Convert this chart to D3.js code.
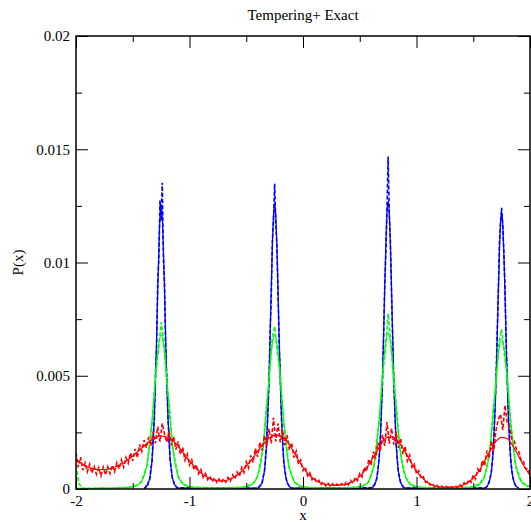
<!DOCTYPE html>
<html>
<head>
<meta charset="utf-8">
<script src="https://cdn.jsdelivr.net/npm/d3@7"></script>
<style>
  body { margin: 0; background: #fff; }
  svg text { font-family: "Liberation Serif", "Times New Roman", serif; fill: #000; }
</style>
</head>
<body>
<svg id="chart" width="531" height="524"></svg>
<script>
const xTicks = [-2, -1, 0, 1, 2];
const xMinorTicks = [-1.5, -0.5, 0.5, 1.5];
const yTicks = [0, 0.005, 0.01, 0.015, 0.02];
const yMinorTicks = [0.0025, 0.0075, 0.0125, 0.0175];
const peakCenters = [-1.25, -0.25, 0.75, 1.75];

// grids the curves were sampled on
const redX = d3.range(0, 81).map(i => -2 + i * 0.05);
const redHistX = d3.range(0, 201).map(i => -2 + i * 0.02);
const greenX = d3.range(0, 161).map(i => -2 + i * 0.025);
const blueX = peakCenters.flatMap(c => d3.range(-15, 16).map(k => c + k * 0.01));

// red: exact + tempering histogram
const redExact = [
  0.00130,0.00112,0.00098,0.00090,0.00086,0.00086,0.00090,0.00098,0.00110,0.00126,
  0.00146,0.00168,0.00190,0.00210,0.00226,0.00234,0.00230,0.00214,0.00188,0.00156,
  0.00124,0.00096,0.00072,0.00054,0.00042,0.00036,0.00036,0.00042,0.00054,0.00074,
  0.00100,0.00132,0.00166,0.00198,0.00224,0.00238,0.00236,0.00218,0.00180,0.00136,
  0.00096,0.00064,0.00042,0.00028,0.00020,0.00017,0.00016,0.00018,0.00024,0.00036,
  0.00056,0.00086,0.00124,0.00166,0.00206,0.00230,0.00228,0.00204,0.00164,0.00120,
  0.00080,0.00050,0.00028,0.00016,0.00010,0.00008,0.00008,0.00010,0.00016,0.00028,
  0.00048,0.00080,0.00124,0.00170,0.00210,0.00228,0.00222,0.00190,0.00144,0.00098,
  0.00060
];
const redHist = [
  0.00160,0.00097,0.00141,0.00083,0.00115,0.00076,0.00109,0.00070,0.00099,0.00065,
  0.00094,0.00058,0.00096,0.00062,0.00098,0.00068,0.00105,0.00076,0.00116,0.00089,
  0.00128,0.00096,0.00139,0.00114,0.00160,0.00124,0.00177,0.00138,0.00197,0.00166,
  0.00216,0.00182,0.00230,0.00191,0.00252,0.00202,0.00275,0.00209,0.00290,0.00242,
  0.00206,0.00258,0.00193,0.00232,0.00174,0.00210,0.00153,0.00184,0.00127,0.00154,
  0.00106,0.00129,0.00084,0.00107,0.00067,0.00086,0.00052,0.00069,0.00041,0.00056,
  0.00032,0.00049,0.00029,0.00044,0.00028,0.00046,0.00030,0.00051,0.00035,0.00062,
  0.00044,0.00075,0.00056,0.00095,0.00073,0.00120,0.00093,0.00148,0.00117,0.00179,
  0.00142,0.00207,0.00170,0.00236,0.00189,0.00266,0.00201,0.00315,0.00210,0.00289,
  0.00206,0.00262,0.00194,0.00239,0.00172,0.00204,0.00139,0.00167,0.00110,0.00128,
  0.00082,0.00097,0.00058,0.00072,0.00041,0.00052,0.00028,0.00038,0.00020,0.00031,
  0.00014,0.00025,0.00012,0.00023,0.00012,0.00022,0.00013,0.00024,0.00013,0.00029,
  0.00018,0.00038,0.00025,0.00051,0.00037,0.00068,0.00053,0.00096,0.00078,0.00132,
  0.00104,0.00165,0.00134,0.00204,0.00164,0.00240,0.00190,0.00295,0.00200,0.00268,
  0.00196,0.00252,0.00182,0.00224,0.00154,0.00188,0.00124,0.00149,0.00096,0.00110,
  0.00066,0.00080,0.00046,0.00054,0.00029,0.00034,0.00017,0.00024,0.00009,0.00016,
  0.00006,0.00013,0.00004,0.00012,0.00004,0.00012,0.00005,0.00014,0.00007,0.00019,
  0.00010,0.00028,0.00017,0.00041,0.00029,0.00062,0.00045,0.00088,0.00072,0.00126,
  0.00102,0.00170,0.00135,0.00213,0.00167,0.00258,0.00305,0.00330,0.00260,0.00370,
  0.00290,0.00274,0.00220,0.00214,0.00176,0.00168,0.00129,0.00126,0.00090,0.00090,
  0.00064
];

// green: exact + tempering histogram
const greenExact = [
  0.00003,0.00003,0.00003,0.00003,0.00003,0.00003,0.000032,0.000033,0.000035,0.000036,
  0.000037,0.000038,0.00004,0.000042,0.000045,0.00005,0.000055,0.00006,0.00007,0.00008,
  0.0001,0.00014,0.0002,0.00032,0.00059,0.00107,0.00197,0.0033,0.00485,0.00625,
  0.0068,0.00625,0.00485,0.0033,0.00197,0.00107,0.00059,0.00032,0.0002,0.00014,
  0.0001,0.00008,0.00007,0.00006,0.000055,0.00005,0.000045,0.000042,0.00004,0.000038,
  0.000037,0.000038,0.00004,0.000042,0.000045,0.00005,0.000055,0.00006,0.00007,0.00008,
  0.0001,0.00014,0.0002,0.00032,0.00059,0.00107,0.00197,0.0033,0.00485,0.00625,
  0.0068,0.00625,0.00485,0.0033,0.00197,0.00107,0.00059,0.00032,0.0002,0.00014,
  0.0001,0.00008,0.00007,0.00006,0.000055,0.00005,0.000045,0.000042,0.00004,0.000038,
  0.000037,0.000038,0.00004,0.000042,0.000045,0.00005,0.000055,0.00006,0.00007,0.00008,
  0.0001,0.00014,0.0002,0.00032,0.0006,0.00108,0.00199,0.00334,0.00491,0.00633,
  0.0069,0.00633,0.00491,0.00334,0.00199,0.00108,0.0006,0.00032,0.0002,0.00014,
  0.0001,0.00008,0.00007,0.00006,0.000055,0.00005,0.000045,0.000042,0.00004,0.000038,
  0.000037,0.000038,0.00004,0.000042,0.000045,0.00005,0.000055,0.00006,0.00007,0.00008,
  0.0001,0.00014,0.0002,0.00032,0.00058,0.00105,0.00194,0.00326,0.00477,0.00612,
  0.0066,0.0061,0.00475,0.00325,0.00194,0.00105,0.00058,0.00032,0.0002,0.00014,
  0.0001
];
const greenHist = [
  0.00105,0.00026,0.00005,0.00002,0.00004,0.00001,0.00005,0.00002,0.00004,0.00003,
  0.00006,0.00002,0.00005,0.00003,0.00007,0.00004,0.00008,0.00005,0.00009,0.00007,
  0.00013,0.00012,0.00024,0.0003,0.00066,0.00101,0.0021,0.00314,0.00512,0.00603,
  0.00736,0.00648,0.00471,0.00352,0.00186,0.00118,0.00053,0.00036,0.00017,0.00016,
  0.00008,0.0001,0.00005,0.00008,0.00004,0.00007,0.00003,0.00006,0.00002,0.00005,
  0.00003,0.00005,0.00002,0.00006,0.00003,0.00007,0.00004,0.00008,0.00005,0.0001,
  0.00008,0.00017,0.00018,0.00037,0.00054,0.00116,0.00185,0.00348,0.00469,0.00651,
  0.00718,0.00604,0.00503,0.00317,0.00212,0.00098,0.00064,0.00028,0.00023,0.00011,
  0.00012,0.00006,0.00009,0.00004,0.00007,0.00003,0.00006,0.00002,0.00005,0.00002,
  0.00004,0.00002,0.00005,0.00003,0.00006,0.00003,0.00007,0.00004,0.00009,0.00006,
  0.00012,0.00011,0.00023,0.00028,0.00065,0.00099,0.00213,0.00312,0.00506,0.00608,
  0.00774,0.00642,0.0047,0.00349,0.00188,0.00115,0.00054,0.00037,0.00016,0.00016,
  0.00008,0.00009,0.00005,0.00007,0.00003,0.00006,0.00002,0.00005,0.00002,0.00004,
  0.00002,0.00005,0.00002,0.00006,0.00003,0.00007,0.00004,0.00008,0.00005,0.0001,
  0.00008,0.00017,0.00017,0.00038,0.00053,0.00114,0.00182,0.00346,0.00462,0.00643,
  0.00705,0.00593,0.00496,0.00315,0.00206,0.00097,0.00065,0.00029,0.00023,0.00011,
  0.00013
];

// blue: exact + tempering histogram, sampled around each well
const blueExact = [
  0.00004,0.00007,0.00011,0.00019,0.0003,0.0005,0.0008,0.0013,0.0021,0.00325,0.00475,
  0.0066,0.00875,0.0106,0.012,0.0125,0.012,0.0106,0.00875,0.0066,
  0.00475,0.00325,0.0021,0.0013,0.0008,0.0005,0.0003,0.00019,0.00011,0.00007,0.00004,

  0.00004,0.00007,0.00011,0.00019,0.0003,0.0005,0.0008,0.0013,0.0021,0.00328,0.00479,
  0.00665,0.00882,0.01068,0.0121,0.0126,0.0121,0.01068,0.00882,0.00665,
  0.00479,0.00328,0.0021,0.0013,0.0008,0.0005,0.0003,0.00019,0.00011,0.00007,0.00004,

  0.00004,0.00007,0.00011,0.00019,0.0003,0.0005,0.0008,0.0013,0.0021,0.00331,0.00483,
  0.0067,0.00889,0.01077,0.0122,0.0127,0.0122,0.01077,0.00889,0.0067,
  0.00483,0.00331,0.0021,0.0013,0.0008,0.0005,0.0003,0.00019,0.00011,0.00007,0.00004,

  0.00004,0.00007,0.00011,0.00019,0.0003,0.0005,0.0008,0.0013,0.0021,0.00317,0.00464,
  0.00644,0.00854,0.01034,0.01171,0.0122,0.01171,0.01034,0.00854,0.00644,
  0.00464,0.00317,0.0021,0.0013,0.0008,0.0005,0.0003,0.00019,0.00011,0.00007,0.00004
];
const blueHist = [
  0.00006,0.00004,0.00015,0.00012,0.00036,0.00041,0.00092,0.00118,0.00234,0.00301,0.00502,
  0.00628,0.00913,0.01015,0.01274,0.01186,0.01352,0.01024,0.00906,0.00631,
  0.0049,0.00314,0.00226,0.00121,0.00089,0.00043,0.00034,0.00015,0.00013,0.00005,0.00005,

  0.00003,0.00008,0.00013,0.00024,0.00027,0.00058,0.00074,0.00142,0.00196,0.00343,0.00458,
  0.00689,0.00841,0.01096,0.01183,0.01348,0.01169,0.01082,0.00857,0.00643,
  0.00489,0.00312,0.00224,0.00123,0.00086,0.00052,0.00026,0.00021,0.00009,0.00008,0.00003,

  0.00005,0.00006,0.00016,0.00017,0.00034,0.00045,0.00087,0.00136,0.00201,0.00339,0.00461,
  0.00678,0.00892,0.01047,0.01239,0.01468,0.01216,0.01093,0.0086,0.00672,
  0.00464,0.00335,0.00203,0.00138,0.00075,0.00054,0.00027,0.00022,0.0001,0.00007,0.00004,

  0.00004,0.00007,0.0001,0.00021,0.00031,0.00053,0.00076,0.00135,0.00204,0.00338,0.00462,
  0.00675,0.00851,0.01079,0.01173,0.01241,0.01156,0.01038,0.00889,0.00646,
  0.00487,0.00318,0.00216,0.00132,0.00083,0.00048,0.00032,0.00017,0.00012,0.00006,0.00004
];

const svg = d3.select('svg#chart');
const x = d3.scaleLinear().domain([-2, 2]).range([76, 530]);
const y = d3.scaleLinear().domain([0, 0.02]).range([489, 36]);

svg.append('clipPath').attr('id', 'plotClip')
  .append('rect')
    .attr('x', x(-2)).attr('y', y(0.02))
    .attr('width', x(2) - x(-2)).attr('height', y(0) - y(0.02));

const plot = svg.append('g').attr('clip-path', 'url(#plotClip)');

const series = [
  {xs: blueX, ys: blueExact, color: '#0000ff', dash: null, curve: d3.curveMonotoneX},
  {xs: blueX, ys: blueHist, color: '#0000ff', dash: '4,2', curve: d3.curveLinear},
  {xs: greenX, ys: greenExact, color: '#00ff00', dash: null, curve: d3.curveMonotoneX},
  {xs: greenX, ys: greenHist, color: '#00ff00', dash: '4,2', curve: d3.curveLinear},
  {xs: redX, ys: redExact, color: '#ff0000', dash: null, curve: d3.curveMonotoneX},
  {xs: redHistX, ys: redHist, color: '#ff0000', dash: '4,2', curve: d3.curveLinear}
];

series.forEach(s => {
  const line = d3.line()
    .x((d, i) => x(s.xs[i]))
    .y(d => y(d))
    .curve(s.curve);
  plot.append('path')
    .attr('d', line(s.ys))
    .attr('fill', 'none')
    .attr('stroke', s.color)
    .attr('stroke-width', s.dash ? 1.6 : 1.2)
    .attr('stroke-dasharray', s.dash);
});

// axes: ticks pointing inward on all four sides
const fmt = d => String(d);
function addAxis(axis, transform, labelled) {
  const g = svg.append('g').attr('transform', transform).call(axis);
  g.select('.domain').remove();
  g.selectAll('.tick line').attr('stroke', '#000');
  g.selectAll('.tick text')
    .attr('font-size', 15)
    .attr('font-family', '"Liberation Serif", "Times New Roman", serif');
  if (!labelled) g.selectAll('.tick text').remove();
}

addAxis(d3.axisBottom(x).tickValues(xTicks).tickFormat(fmt).tickSizeInner(-12).tickSizeOuter(0).tickPadding(6),
  `translate(0,${y(0)})`, true);
addAxis(d3.axisBottom(x).tickValues(xMinorTicks).tickFormat('').tickSizeInner(-6).tickSizeOuter(0),
  `translate(0,${y(0)})`, false);
addAxis(d3.axisTop(x).tickValues(xTicks).tickSizeInner(-12).tickSizeOuter(0),
  `translate(0,${y(0.02)})`, false);
addAxis(d3.axisTop(x).tickValues(xMinorTicks).tickSizeInner(-6).tickSizeOuter(0),
  `translate(0,${y(0.02)})`, false);

addAxis(d3.axisLeft(y).tickValues(yTicks).tickFormat(fmt).tickSizeInner(-12).tickSizeOuter(0).tickPadding(6),
  `translate(${x(-2)},0)`, true);
addAxis(d3.axisLeft(y).tickValues(yMinorTicks).tickFormat('').tickSizeInner(-6).tickSizeOuter(0),
  `translate(${x(-2)},0)`, false);
addAxis(d3.axisRight(y).tickValues(yTicks).tickSizeInner(-12).tickSizeOuter(0),
  `translate(${x(2)},0)`, false);
addAxis(d3.axisRight(y).tickValues(yMinorTicks).tickSizeInner(-6).tickSizeOuter(0),
  `translate(${x(2)},0)`, false);

svg.append('rect')
  .attr('x', x(-2)).attr('y', y(0.02))
  .attr('width', x(2) - x(-2)).attr('height', y(0) - y(0.02))
  .attr('fill', 'none')
  .attr('stroke', '#000')
  .attr('stroke-width', 1.5);

svg.append('text')
  .attr('x', (x(-2) + x(2)) / 2).attr('y', 20)
  .attr('text-anchor', 'middle')
  .attr('font-size', 15)
  .text('Tempering+ Exact');

svg.append('text')
  .attr('x', (x(-2) + x(2)) / 2).attr('y', 520)
  .attr('text-anchor', 'middle')
  .attr('font-size', 15)
  .text('x');

svg.append('text')
  .attr('transform', `translate(23,${(y(0) + y(0.02)) / 2}) rotate(-90)`)
  .attr('text-anchor', 'middle')
  .attr('font-size', 15)
  .text('P(x)');
</script>
</body>
</html>
